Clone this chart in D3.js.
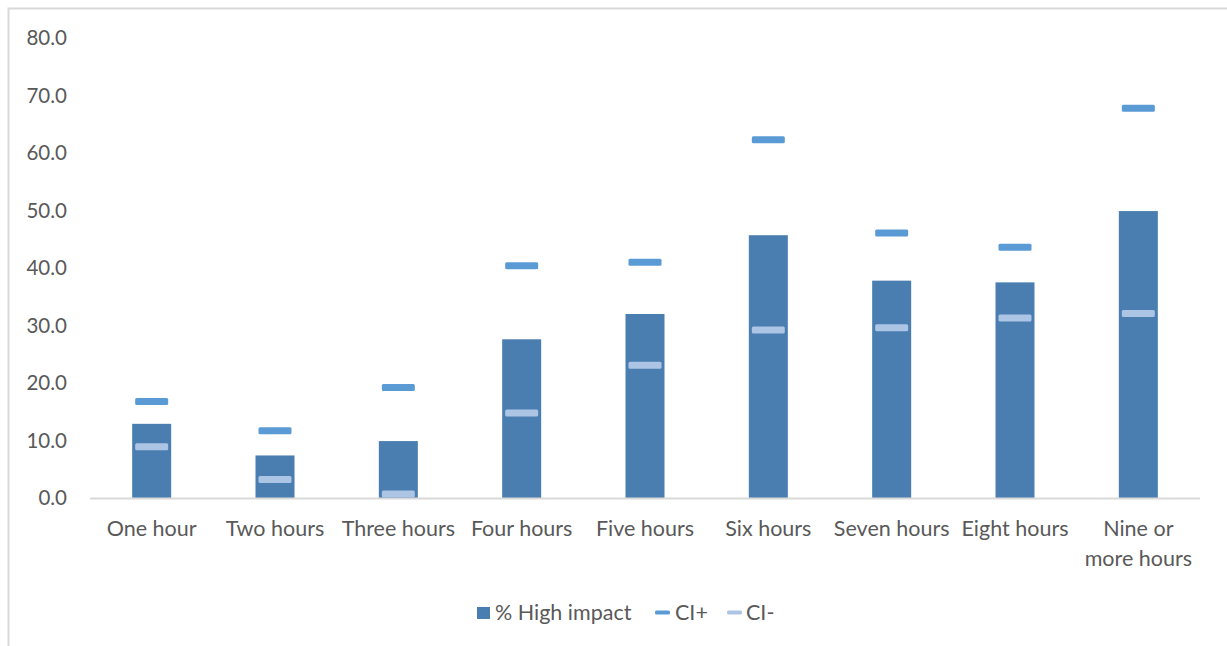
<!DOCTYPE html>
<html>
<head>
<meta charset="utf-8">
<script src="https://cdn.jsdelivr.net/npm/d3@7"></script>
<style>
  body { margin: 0; background: #fff; }
  text { font-family: Lato, "Open Sans", sans-serif; fill: #595959; }
</style>
</head>
<body>
<svg id="chart"></svg>
<script>
var categories = [["One hour"], ["Two hours"], ["Three hours"], ["Four hours"], ["Five hours"],
                  ["Six hours"], ["Seven hours"], ["Eight hours"], ["Nine or", "more hours"]];
var highImpact = [12.9, 7.4, 9.9, 27.6, 32.0, 45.7, 37.8, 37.5, 49.9];
var ciPlus = [16.8, 11.7, 19.2, 40.4, 41.0, 62.3, 46.1, 43.6, 67.8];
var ciMinus = [8.9, 3.2, 0.7, 14.8, 23.1, 29.2, 29.6, 31.3, 32.1];
var yTicks = [0, 10, 20, 30, 40, 50, 60, 70, 80];

var W = 1227, H = 646;
var margin = {top: 38, right: 27, bottom: 148, left: 90},
    width = W - margin.left - margin.right,
    height = H - margin.top - margin.bottom;

var svg = d3.select("#chart").attr("width", W).attr("height", H);

// chart frame
svg.append("path")
  .attr("d", "M8.5," + H + "V8.5H" + W)
  .attr("fill", "none").attr("stroke", "#d9d9d9").attr("stroke-width", 2);

var g = svg.append("g").attr("transform", "translate(" + margin.left + "," + margin.top + ")");

var idx = d3.range(categories.length);
var x = d3.scaleBand().domain(idx).range([0, width]);
var y = d3.scaleLinear().domain([0, 80]).range([height, 0]);

var barW = 39, capW = 33, capH = 7, fs = "21.5px";

// y labels
g.selectAll(".ylab").data(yTicks).enter().append("text")
  .attr("class", "ylab")
  .attr("x", -23).attr("y", d => y(d))
  .attr("dy", "0.35em").attr("text-anchor", "end")
  .style("font-size", "20.5px")
  .text(d => d3.format(".1f")(d));

// bars
g.selectAll(".bar").data(idx).enter().append("rect")
  .attr("class", "bar")
  .attr("x", i => x(i) + x.bandwidth() / 2 - barW / 2)
  .attr("width", barW)
  .attr("y", i => y(highImpact[i]))
  .attr("height", i => height - y(highImpact[i]))
  .attr("fill", "#4a7eb0");

// baseline
g.append("line")
  .attr("x1", 0).attr("x2", width)
  .attr("y1", height + 0.5).attr("y2", height + 0.5)
  .attr("stroke", "#d9d9d9").attr("stroke-width", 2);

// CI markers
function caps(vals, color, cls) {
  g.selectAll("." + cls).data(idx).enter().append("rect")
    .attr("class", cls)
    .attr("x", i => x(i) + x.bandwidth() / 2 - capW / 2)
    .attr("y", i => y(vals[i]) - capH / 2)
    .attr("width", capW).attr("height", capH)
    .attr("rx", 1.5)
    .attr("fill", color);
}
caps(ciPlus, "#5b9bd5", "cip");
caps(ciMinus, "#adc5e5", "cim");

// x labels
var xl = g.selectAll(".xlab").data(idx).enter().append("text")
  .attr("class", "xlab")
  .attr("text-anchor", "middle")
  .attr("transform", i => "translate(" + (x(i) + x.bandwidth() / 2) + "," + (height + 38) + ")")
  .style("font-size", fs);
xl.selectAll("tspan").data(i => categories[i]).enter().append("tspan")
  .attr("x", 0).attr("dy", (d, j) => j == 0 ? 0 : 30)
  .text(d => d);

// legend
var leg = svg.append("g").attr("transform", "translate(0,612)");
leg.append("rect").attr("x", 477).attr("y", -5).attr("width", 13).attr("height", 12).attr("fill", "#4a7eb0");
leg.append("text").attr("x", 495).attr("y", 0).attr("dy", "0.35em").style("font-size", fs).text("% High impact");
leg.append("rect").attr("x", 655).attr("y", -1.5).attr("width", 15).attr("height", 4).attr("rx", 1.5).attr("fill", "#5b9bd5");
leg.append("text").attr("x", 675).attr("y", 0).attr("dy", "0.35em").style("font-size", fs).text("CI+");
leg.append("rect").attr("x", 727).attr("y", -1.5).attr("width", 15).attr("height", 4).attr("rx", 1.5).attr("fill", "#adc5e5");
leg.append("text").attr("x", 746).attr("y", 0).attr("dy", "0.35em").style("font-size", fs).text("CI-");
</script>
</body>
</html>
